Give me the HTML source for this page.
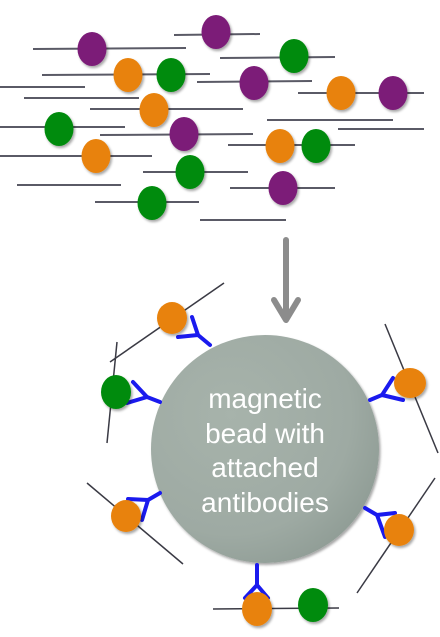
<!DOCTYPE html>
<html><head><meta charset="utf-8"><style>
html,body{margin:0;padding:0;background:#fff;width:440px;height:637px;overflow:hidden}
svg{display:block}
</style></head><body>
<svg width="440" height="637" viewBox="0 0 440 637">
<defs>
<filter id="sh" x="-50%" y="-50%" width="200%" height="200%"><feDropShadow dx="1.5" dy="2" stdDeviation="1.2" flood-color="#000" flood-opacity="0.35"/></filter>
<radialGradient id="bg" cx="0.35" cy="0.35" r="0.75"><stop offset="0" stop-color="#a7b3ab"/><stop offset="0.7" stop-color="#9eaaa3"/><stop offset="1" stop-color="#8e9b94"/></radialGradient>
</defs>
<g stroke="#5a5a66" stroke-width="2">
<line x1="33" y1="49" x2="186" y2="48"/><line x1="174" y1="35" x2="260" y2="34"/>
<line x1="220" y1="58" x2="335" y2="57"/><line x1="42" y1="75" x2="210" y2="74"/>
<line x1="197" y1="82" x2="312" y2="81"/><line x1="298" y1="93" x2="424" y2="93"/>
<line x1="0" y1="87" x2="85" y2="87"/><line x1="24" y1="98" x2="139" y2="98"/>
<line x1="90" y1="109" x2="243" y2="109"/><line x1="0" y1="127" x2="125" y2="127"/>
<line x1="267" y1="120" x2="393" y2="120"/><line x1="338" y1="129" x2="424" y2="129"/>
<line x1="100" y1="135" x2="253" y2="134"/><line x1="228" y1="145" x2="355" y2="145"/>
<line x1="0" y1="156" x2="152" y2="156"/><line x1="143" y1="172" x2="248" y2="172"/>
<line x1="17" y1="185" x2="121" y2="185"/><line x1="230" y1="188" x2="335" y2="188"/>
<line x1="95" y1="202" x2="199" y2="202"/><line x1="200" y1="220" x2="286" y2="220"/>
</g>
<g filter="url(#sh)">
<ellipse cx="92" cy="49" rx="14.5" ry="17" fill="#7b1b78"/>
<ellipse cx="216" cy="32" rx="14.5" ry="17" fill="#7b1b78"/>
<ellipse cx="294" cy="56" rx="14.5" ry="17" fill="#008b0c"/>
<ellipse cx="128" cy="75" rx="14.5" ry="17" fill="#e8820a"/>
<ellipse cx="171" cy="75" rx="14.5" ry="17" fill="#008b0c"/>
<ellipse cx="254" cy="83" rx="14.5" ry="17" fill="#7b1b78"/>
<ellipse cx="341" cy="93" rx="14.5" ry="17" fill="#e8820a"/>
<ellipse cx="393" cy="93" rx="14.5" ry="17" fill="#7b1b78"/>
<ellipse cx="154" cy="110" rx="14.5" ry="17" fill="#e8820a"/>
<ellipse cx="59" cy="129" rx="14.5" ry="17" fill="#008b0c"/>
<ellipse cx="184" cy="134" rx="14.5" ry="17" fill="#7b1b78"/>
<ellipse cx="280" cy="146" rx="14.5" ry="17" fill="#e8820a"/>
<ellipse cx="316" cy="146" rx="14.5" ry="17" fill="#008b0c"/>
<ellipse cx="96" cy="156" rx="14.5" ry="17" fill="#e8820a"/>
<ellipse cx="190" cy="172" rx="14.5" ry="17" fill="#008b0c"/>
<ellipse cx="283" cy="188" rx="14.5" ry="17" fill="#7b1b78"/>
<ellipse cx="152" cy="203" rx="14.5" ry="17" fill="#008b0c"/>
</g>
<g stroke="#8c8c8c" stroke-width="6" fill="none" stroke-linecap="round">
<line x1="286" y1="240" x2="286" y2="318"/>
<polyline points="274,300 286,320 298,300" stroke-linejoin="round"/>
</g>
<g stroke="#3a3a44" stroke-width="1.5">
<line x1="110" y1="362" x2="224" y2="283"/><line x1="117" y1="342" x2="107" y2="443"/>
<line x1="385" y1="324" x2="438" y2="453"/><line x1="87" y1="483" x2="183" y2="564"/>
<line x1="435" y1="478" x2="357" y2="593"/><line x1="213" y1="609" x2="339" y2="608"/>
</g>
<circle cx="265" cy="449" r="114" fill="url(#bg)" filter="url(#sh)"/>
<g stroke="#1a1aee" stroke-width="4" fill="none" stroke-linecap="round" stroke-linejoin="round">
<polyline points="192,317 198,335 178,337"/><line x1="198" y1="335" x2="210" y2="345"/>
<polyline points="133,382 147,397 127,403"/><line x1="147" y1="397" x2="160" y2="402"/>
<polyline points="393,378 382,395 403,400"/><line x1="382" y1="395" x2="370" y2="400"/>
<polyline points="128,499 148,500 142,520"/><line x1="148" y1="500" x2="160" y2="493"/>
<polyline points="395,513 377,515 385,537"/><line x1="377" y1="515" x2="365" y2="508"/>
<polyline points="245,598 257,585 268,598"/><line x1="257" y1="565" x2="257" y2="585"/>
</g>
<g filter="url(#sh)">
<ellipse cx="172" cy="318" rx="15" ry="16" fill="#e8820a"/>
<ellipse cx="116" cy="392" rx="15" ry="17" fill="#008b0c"/>
<ellipse cx="410" cy="383" rx="16" ry="15" fill="#e8820a"/>
<ellipse cx="126" cy="516" rx="15" ry="16" fill="#e8820a"/>
<ellipse cx="399" cy="530" rx="15" ry="16" fill="#e8820a"/>
<ellipse cx="257" cy="609" rx="15" ry="17" fill="#e8820a"/>
<ellipse cx="313" cy="605" rx="15" ry="17" fill="#008b0c"/>
</g>
<g fill="#fff" font-family="Liberation Sans, sans-serif" font-size="28" text-anchor="middle">
<text x="265" y="408">magnetic</text>
<text x="265" y="443">bead with</text>
<text x="265" y="477">attached</text>
<text x="265" y="512">antibodies</text>
</g>
</svg>
</body></html>
